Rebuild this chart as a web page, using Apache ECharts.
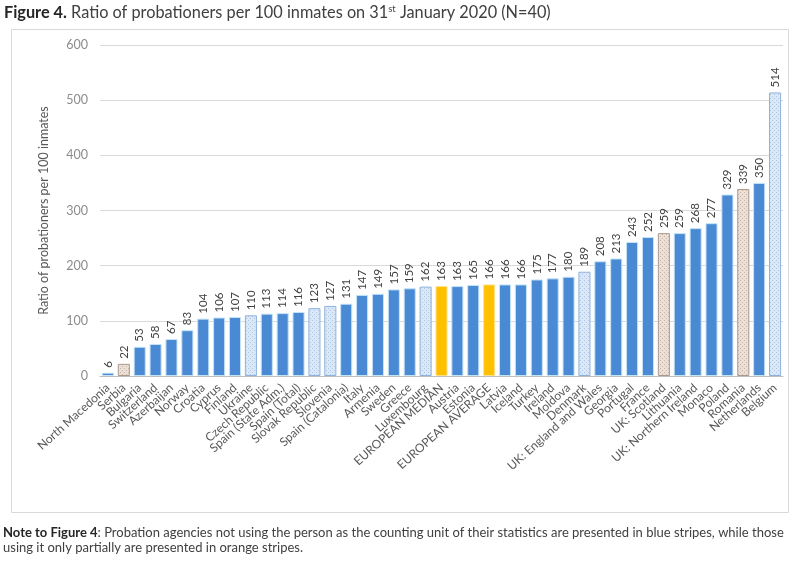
<!DOCTYPE html>
<html>
<head>
<meta charset="utf-8">
<script src="https://cdn.jsdelivr.net/npm/echarts@6/dist/echarts.min.js"></script>
<style>
  html, body { margin: 0; padding: 0; background: #fff; }
  #chart { width: 795px; height: 561px; }
</style>
</head>
<body>
<div id="chart"></div>
<script>
// Jurisdictions, sorted by ratio
const categories = [
  'North Macedonia', 'Serbia', 'Bulgaria', 'Switzerland', 'Azerbaijan', 'Norway',
  'Croatia', 'Cyprus', 'Finland', 'Ukraine', 'Czech Republic', 'Spain (State Adm.)',
  'Spain (Total)', 'Slovak Republic', 'Slovenia', 'Spain (Catalonia)', 'Italy',
  'Armenia', 'Sweden', 'Greece', 'Luxembourg', 'EUROPEAN MEDIAN', 'Austria',
  'Estonia', 'EUROPEAN AVERAGE', 'Latvia', 'Iceland', 'Turkey', 'Ireland',
  'Moldova', 'Denmark', 'UK: England and Wales', 'Georgia', 'Portugal', 'France',
  'UK: Scotland', 'Lithuania', 'UK: Northern Ireland', 'Monaco', 'Poland',
  'Romania', 'Netherlands', 'Belgium'
];

// Probationers per 100 inmates
const values = [
  6, 22, 53, 58, 67, 83, 104, 106, 107, 110, 113, 114, 116, 123, 127, 131, 147,
  149, 157, 159, 162, 163, 163, 165, 166, 166, 166, 175, 177, 180, 189, 208, 213,
  243, 252, 259, 259, 268, 277, 329, 339, 350, 514
];

// Bar style: s = solid, b = blue stripes, o = orange stripes, y = European reference
const barKinds = [
  's', 'o', 's', 's', 's', 's', 's', 's', 's', 'b', 's', 's', 's', 'b', 'b', 's',
  's', 's', 's', 's', 'b', 'y', 's', 's', 'y', 's', 's', 's', 's', 's', 'b', 's',
  's', 's', 's', 'o', 's', 's', 's', 's', 'o', 's', 'b'
];

const yTicks = { min: 0, max: 600, interval: 100 };

function dotPattern(bg, fg) {
  const c = document.createElement('canvas');
  c.width = 4; c.height = 4;
  const g = c.getContext('2d');
  g.fillStyle = bg; g.fillRect(0, 0, 4, 4);
  g.fillStyle = fg;
  g.fillRect(0, 0, 1, 1);
  g.fillRect(2, 2, 1, 1);
  return c;
}

const styles = {
  s: { color: '#4a89d4', borderColor: '#c4e4f6', borderWidth: 1 },
  b: { color: { image: dotPattern('#dce8f5', '#a9c6e8'), repeat: 'repeat' }, borderColor: '#8fb2dc', borderWidth: 1 },
  o: { color: { image: dotPattern('#ece0d6', '#c8b4a4'), repeat: 'repeat' }, borderColor: '#a99a8e', borderWidth: 1 },
  y: { color: '#ffc000', borderColor: '#ffe38a', borderWidth: 1 }
};

const seriesData = values.map((v, i) => ({ value: v, itemStyle: styles[barKinds[i]] }));

const FONT = 'Lato, "Open Sans", sans-serif';
const TITLE_SIZE = 16.3;
const chart = echarts.init(document.getElementById('chart'), null, { renderer: 'canvas' });

chart.setOption({
  backgroundColor: '#ffffff',
  animation: false,
  textStyle: { fontFamily: FONT },
  title: {
    text: '{b|Figure 4.}{t| Ratio of probationers per 100 inmates on 31}{sup|st}{t| January 2020 (N=40)}',
    left: 0, top: 0, padding: [4, 4],
    textStyle: {
      fontSize: TITLE_SIZE, fontWeight: 'normal', color: '#404040', fontFamily: FONT,
      rich: {
        b: { fontWeight: 'bold', fontSize: TITLE_SIZE, color: '#262626', fontFamily: FONT },
        t: { fontSize: TITLE_SIZE, color: '#404040', fontFamily: FONT },
        sup: { fontSize: 9.5, color: '#404040', verticalAlign: 'top', padding: [0, 0, 7, 0], fontFamily: FONT }
      }
    }
  },
  grid: { left: 100, right: 12, top: 45, bottom: 185 },
  xAxis: {
    type: 'category',
    data: categories,
    axisLine: { show: true, lineStyle: { color: '#bfbfbf' } },
    axisTick: { show: false },
    axisLabel: {
      interval: 0, rotate: 42, fontSize: 12, color: '#595959', fontFamily: FONT, margin: 10
    }
  },
  yAxis: {
    type: 'value',
    min: yTicks.min, max: yTicks.max, interval: yTicks.interval,
    name: 'Ratio of probationers per 100 inmates',
    nameLocation: 'middle',
    nameGap: 50,
    nameTextStyle: { fontSize: 12.5, color: '#595959', fontFamily: FONT },
    axisLine: { show: false },
    axisTick: { show: false },
    axisLabel: { fontSize: 12.5, color: '#8c8c8c', margin: 12, fontFamily: FONT },
    splitLine: { lineStyle: { color: '#d9d9d9' } }
  },
  series: [{
    type: 'bar',
    data: seriesData,
    barCategoryGap: '24%',
    label: {
      show: true,
      position: 'top',
      rotate: 90,
      align: 'left',
      verticalAlign: 'middle',
      distance: 5,
      fontSize: 11.5,
      color: '#404040',
      fontFamily: FONT
    }
  }],
  graphic: [
    {
      type: 'rect', silent: true,
      shape: { x: 11.5, y: 29.5, width: 777, height: 483 },
      style: { fill: 'none', stroke: '#d9d9d9', lineWidth: 1 }
    },
    {
      type: 'text', left: 3, top: 525,
      style: {
        text: '{b|Note to Figure 4}{t|: Probation agencies not using the person as the counting unit of their statistics are presented in blue stripes, while those}\n{t|using it only partially are presented in orange stripes.}',
        fontSize: 13,
        fontFamily: FONT,
        fill: '#404040',
        lineHeight: 15,
        rich: {
          b: { fontWeight: 'bold', fontSize: 13, fill: '#262626', fontFamily: FONT, lineHeight: 15 },
          t: { fontSize: 13, fill: '#404040', fontFamily: FONT, lineHeight: 15 }
        }
      }
    }
  ]
});
</script>
</body>
</html>
